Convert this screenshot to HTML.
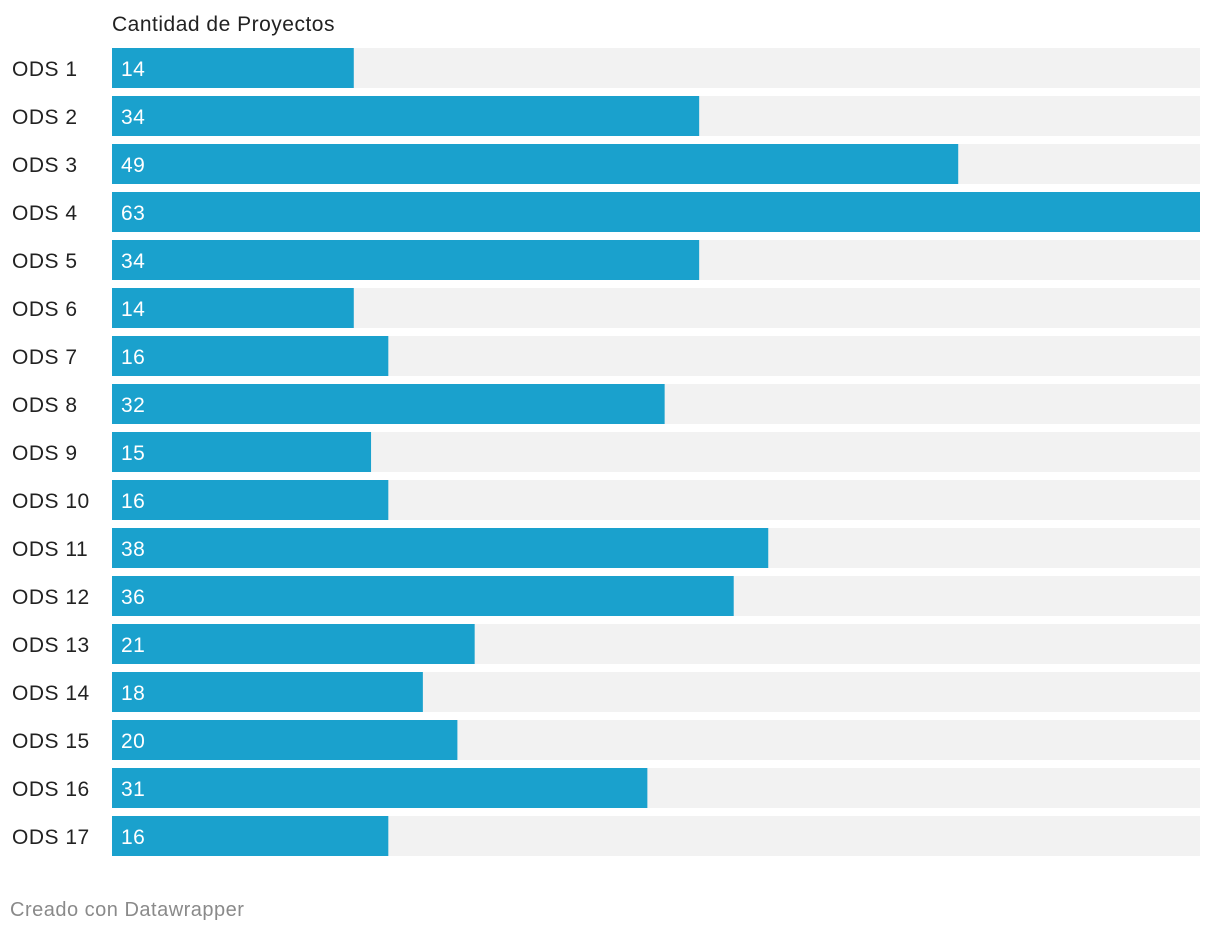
<!DOCTYPE html>
<html><head><meta charset="utf-8"><style>
body{margin:0;background:#fff;width:1220px;height:932px;overflow:hidden;font-family:"Liberation Sans",sans-serif;}
svg{display:block}
text{letter-spacing:0.5px}
</style></head><body>
<svg id="chart" width="1220" height="932">
<text x="112" y="31" font-size="21" fill="#222" letter-spacing="0.9">Cantidad de Proyectos</text>
<text x="10" y="916" font-size="20" fill="#8a8a8a" letter-spacing="0.9">Creado con Datawrapper</text>
</svg>
<script>
const categories=["ODS 1","ODS 2","ODS 3","ODS 4","ODS 5","ODS 6","ODS 7","ODS 8","ODS 9","ODS 10","ODS 11","ODS 12","ODS 13","ODS 14","ODS 15","ODS 16","ODS 17"];
const values=[14,34,49,63,34,14,16,32,15,16,38,36,21,18,20,31,16];
const svg=document.getElementById('chart');
const NS='http://www.w3.org/2000/svg';
const x0=112,x1=1200,top0=48,step=48,bh=40;
const maxV=Math.max(...values);
const xs=v=>x0+(v/maxV)*(x1-x0);
const ys=i=>top0+i*step;
function mk(t,a){const e=document.createElementNS(NS,t);for(const k in a)e.setAttribute(k,a[k]);svg.appendChild(e);return e;}
categories.forEach((c,i)=>{
  const y=ys(i);
  const bg=mk('rect',{x:x0,y:y,width:x1-x0,height:bh,fill:'#f2f2f2'});
  
  
  const b=mk('rect',{x:x0,y:y,width:xs(values[i])-x0,height:bh,fill:'#1aa1cd'});
  
  
  const l=mk('text',{x:12,y:y+28,'font-size':21,fill:'#222'});
  l.textContent=c;
  
  
  const v=mk('text',{x:121,y:y+28,'font-size':21,fill:'#fff'});
  v.textContent=values[i];
  
  
});
</script>
</body></html>
